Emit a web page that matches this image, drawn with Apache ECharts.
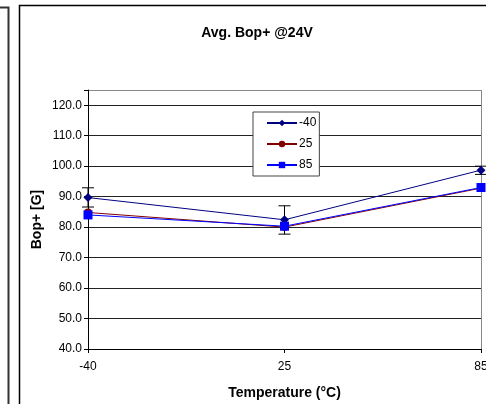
<!DOCTYPE html>
<html><head><meta charset="utf-8">
<script src="https://cdn.jsdelivr.net/npm/echarts@6/dist/echarts.min.js"></script>
<style>html,body{margin:0;padding:0;background:#fff}#c{width:486px;height:404px}</style>
</head><body><div id="c"></div>
<script>
const categories = ['-40', '25', '85'];
const seriesNames = ['-40', '25', '85'];
const valuesM40 = [89.7, 82.4, 98.7];
const values25 = [84.8, 80.0, 92.8];
const values85 = [84.0, 80.3, 93.0];
const errLow = [86.6, 77.7, 97.3];
const errHigh = [92.9, 87.0, 100.0];
const yTicks = [40, 50, 60, 70, 80, 90, 100, 110, 120];

const font = 'Liberation Sans, Arial, sans-serif';
const chart = echarts.init(document.getElementById('c'));
const errData = categories.map((c, i) => [i, errLow[i], errHigh[i]]);
chart.setOption({
  animation: false,
  textStyle: {fontFamily: font},
  title: {text: 'Avg. Bop+ @24V', left: 252, top: 21, textAlign: 'center',
    textStyle: {fontFamily: font, fontSize: 14, fontWeight: 'bold', color: '#000'}},
  grid: {left: 88, right: 5, top: 90, bottom: 55, containLabel: false, outerBoundsMode: 'none'},
  legend: {
    orient: 'vertical', left: 253, top: 112, padding: [5, 3, 5, 13],
    backgroundColor: '#fff', borderColor: '#444', borderWidth: 1,
    itemWidth: 30, itemHeight: 8, itemGap: 9,
    textStyle: {fontFamily: font, fontSize: 12, color: '#000', padding: [0, 0, 0, -3]},
    data: seriesNames
  },
  xAxis: {
    type: 'category', data: categories, boundaryGap: false,
    name: 'Temperature (°C)', nameLocation: 'middle', nameGap: 37, nameMoveOverlap: false,
    nameTextStyle: {fontFamily: font, fontSize: 14, fontWeight: 'bold', color: '#000'},
    axisLine: {lineStyle: {color: '#000', width: 1}},
    axisTick: {show: true, length: 4, inside: false, alignWithLabel: true, lineStyle: {color: '#000'}},
    axisLabel: {fontFamily: font, fontSize: 12, color: '#000', margin: 12},
    splitLine: {show: false}
  },
  yAxis: {
    type: 'value', min: 40, max: 125, interval: 10,
    name: 'Bop+ [G]', nameLocation: 'middle', nameGap: 44, nameRotate: 90, nameMoveOverlap: false,
    nameTextStyle: {fontFamily: font, fontSize: 14, fontWeight: 'bold', color: '#000'},
    axisLine: {show: true, lineStyle: {color: '#000', width: 1}},
    axisTick: {show: true, length: 4, lineStyle: {color: '#000'}},
    axisLabel: {fontFamily: font, fontSize: 12, color: '#000', margin: 6,
      formatter: v => yTicks.indexOf(v) >= 0 ? v.toFixed(1) : ''},
    splitLine: {show: true, lineStyle: {color: ['#000','#222','#222','#222','#222','#222','#222','#222','#222','#888'], width: 1}}
  },
  series: [
    {name: '-40', type: 'line', data: valuesM40, symbol: 'diamond', symbolSize: 9,
      lineStyle: {color: '#000080', width: 1}, itemStyle: {color: '#000080'}, z: 4},
    {name: '25', type: 'line', data: values25, symbol: 'circle', symbolSize: 8,
      lineStyle: {color: '#800000', width: 1}, itemStyle: {color: '#800000'}, z: 3},
    {name: '85', type: 'line', data: values85, symbol: 'rect', symbolSize: 9,
      lineStyle: {color: '#0000FF', width: 1}, itemStyle: {color: '#0000FF'}, z: 5},
    {type: 'custom', data: errData, z: 2, silent: true,
      renderItem: function (params, api) {
        const x = api.value(0);
        const lo = api.coord([x, api.value(1)]);
        const hi = api.coord([x, api.value(2)]);
        const w = 6;
        const st = {stroke: '#000', lineWidth: 1};
        return {type: 'group', children: [
          {type: 'line', shape: {x1: lo[0], y1: lo[1], x2: hi[0], y2: hi[1]}, style: st},
          {type: 'line', shape: {x1: lo[0]-w, y1: lo[1], x2: lo[0]+w, y2: lo[1]}, style: st},
          {type: 'line', shape: {x1: hi[0]-w, y1: hi[1], x2: hi[0]+w, y2: hi[1]}, style: st}
        ]};
      }}
  ],
  graphic: [
    {type: 'line', shape: {x1: 481.5, y1: 90, x2: 481.5, y2: 349}, style: {stroke: '#888', lineWidth: 1}, z: 1},
    {type: 'rect', shape: {x: 19.5, y: 5.5, width: 520, height: 520}, style: {fill: null, stroke: '#000', lineWidth: 1.5}, z: 10},
    {type: 'polyline', shape: {points: [[0, 7.5], [8.5, 7.5], [8.5, 410]]}, style: {fill: null, stroke: '#333', lineWidth: 2}, z: 10}
  ]
});
</script></body></html>
